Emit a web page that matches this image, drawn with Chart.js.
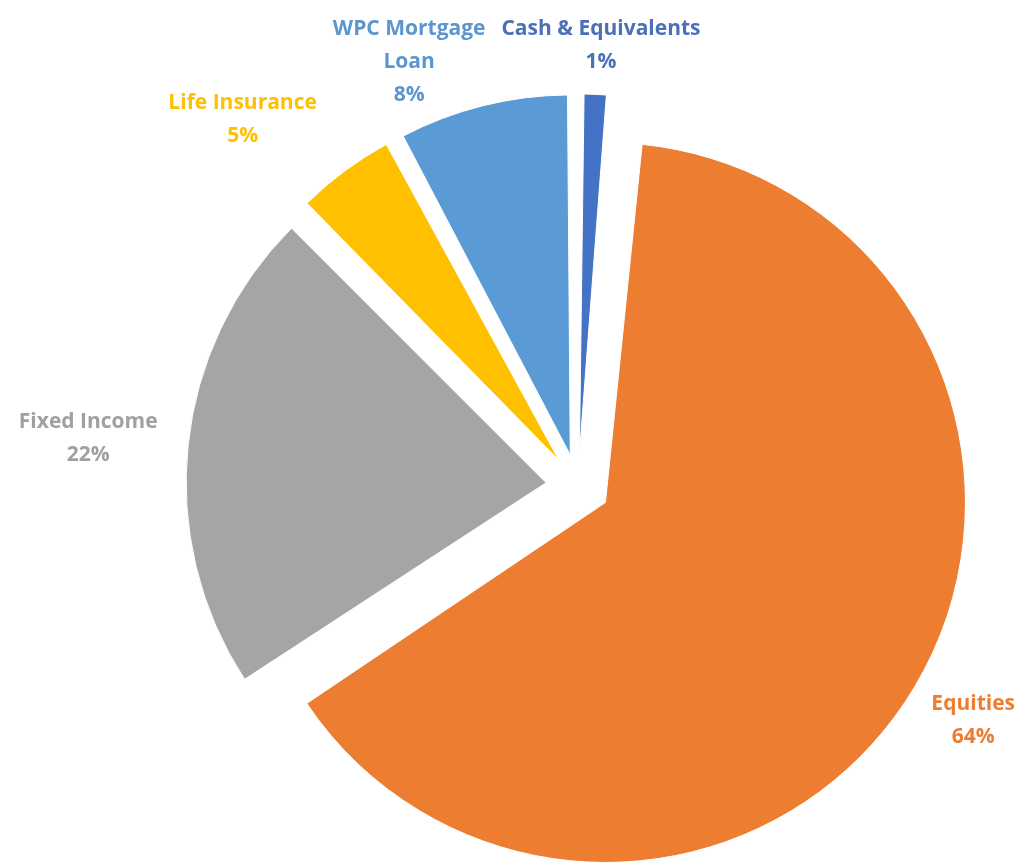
<!DOCTYPE html>
<html>
<head>
<meta charset="utf-8">
<script src="https://cdn.jsdelivr.net/npm/chart.js@4.4.0/dist/chart.umd.min.js"></script>
<style>
  html, body { margin: 0; padding: 0; background: #ffffff; overflow: hidden; }
  #wrap { position: relative; width: 1028px; height: 867px; }
</style>
</head>
<body>
<div id="wrap"><canvas id="chart"></canvas></div>
<script>
// ---- data ----
const categories = [
  ['Cash & Equivalents'],
  ['Equities'],
  ['Fixed Income'],
  ['Life Insurance'],
  ['WPC Mortgage', 'Loan']
];
const shares = [1.4, 64.4, 21.7, 4.7, 7.8];
const sliceColors = ['#4472C4', '#ED7D31', '#A5A5A5', '#FFC000', '#5B9BD5'];
const labelColors = ['#4A70B8', '#ED7D31', '#A0A0A0', '#FFC000', '#5B96D0'];

// ---- style constants ----
const RADIUS = 360;      // pie radius in px
const EXPLODE = 32;      // distance each slice is pulled out, px
const LABEL_GAP = 31;
const LINE_H = 33;
const FONT = 'bold 21px "Open Sans", Lato, sans-serif';
const MARGIN = 13;
const COLLIDE_GAP = 16;

// Chart.js translates an arc by offset/4 and grows its radius by offset/4*fix;
// keep radius equal for every slice so they look like an evenly exploded pie.
const equalRadiusPlugin = {
  id: 'equalRadius',
  afterDatasetUpdate(chart, args) {
    const meta = chart.getDatasetMeta(args.index);
    meta.data.forEach(arc => {
      const fix = 1 - Math.sin(Math.min(Math.PI, arc.circumference || 0));
      arc.outerRadius = RADIUS - EXPLODE * fix;
    });
  }
};

const outsideLabelPlugin = {
  id: 'outsideLabels',
  afterDatasetsDraw(chart) {
    const ctx = chart.ctx;
    const meta = chart.getDatasetMeta(0);
    const values = chart.data.datasets[0].data;
    const total = values.reduce((a, b) => a + b, 0);
    const W = chart.width, H = chart.height;
    ctx.save();
    ctx.font = FONT;
    const boxes = meta.data.map((arc, i) => {
      const lines = [].concat(chart.data.labels[i], Math.round(values[i] / total * 100) + '%');
      const w = Math.max(...lines.map(l => ctx.measureText(l).width));
      const h = lines.length * LINE_H;
      const mid = (arc.startAngle + arc.endAngle) / 2;
      const r = RADIUS + EXPLODE + LABEL_GAP;
      const px = arc.x + Math.cos(mid) * r;
      const py = arc.y + Math.sin(mid) * r;
      let cx = px + Math.cos(mid) * w / 2;
      let cy = py + Math.sin(mid) * h / 2;
      cx = Math.min(Math.max(cx, MARGIN + w / 2), W - MARGIN - w / 2);
      cy = Math.min(Math.max(cy, MARGIN + h / 2), H - MARGIN - h / 2);
      return { i, lines, w, h, cx, cy };
    });
    const n = boxes.length;
    const order = [0];
    for (let k = n - 1; k >= 1; k--) order.push(k);
    const placed = [];
    const overlaps = (a, b) =>
      Math.abs(a.cx - b.cx) < (a.w + b.w) / 2 + COLLIDE_GAP / 2 &&
      Math.abs(a.cy - b.cy) < (a.h + b.h) / 2;
    order.forEach(idx => {
      const b = boxes[idx];
      for (let t = 0; t < 10; t++) {
        const hit = placed.find(p => overlaps(b, p));
        if (!hit) break;
        if (b.cx < hit.cx) b.cx = hit.cx - hit.w / 2 - COLLIDE_GAP - b.w / 2;
        else b.cx = hit.cx + hit.w / 2 + COLLIDE_GAP + b.w / 2;
      }
      placed.push(b);
    });
    ctx.textAlign = 'center';
    ctx.textBaseline = 'middle';
    boxes.forEach(b => {
      ctx.fillStyle = labelColors[b.i];
      b.lines.forEach((line, k) => {
        ctx.fillText(line, b.cx, b.cy - b.h / 2 + LINE_H * (k + 0.5));
      });
    });
    ctx.restore();
  }
};

new Chart(document.getElementById('chart'), {
  type: 'pie',
  data: {
    labels: categories,
    datasets: [{
      data: shares,
      backgroundColor: sliceColors,
      borderColor: '#ffffff',
      borderWidth: 1,
      offset: EXPLODE * 4
    }]
  },
  options: {
    responsive: true,
    maintainAspectRatio: false,
    animation: false,
    events: [],
    radius: RADIUS,
    rotation: 0,
    layout: { padding: { left: 128, right: 0, top: 105, bottom: 0 } },
    plugins: {
      legend: { display: false },
      tooltip: { enabled: false },
      title: { display: false }
    }
  },
  plugins: [equalRadiusPlugin, outsideLabelPlugin]
});
</script>
</body>
</html>
